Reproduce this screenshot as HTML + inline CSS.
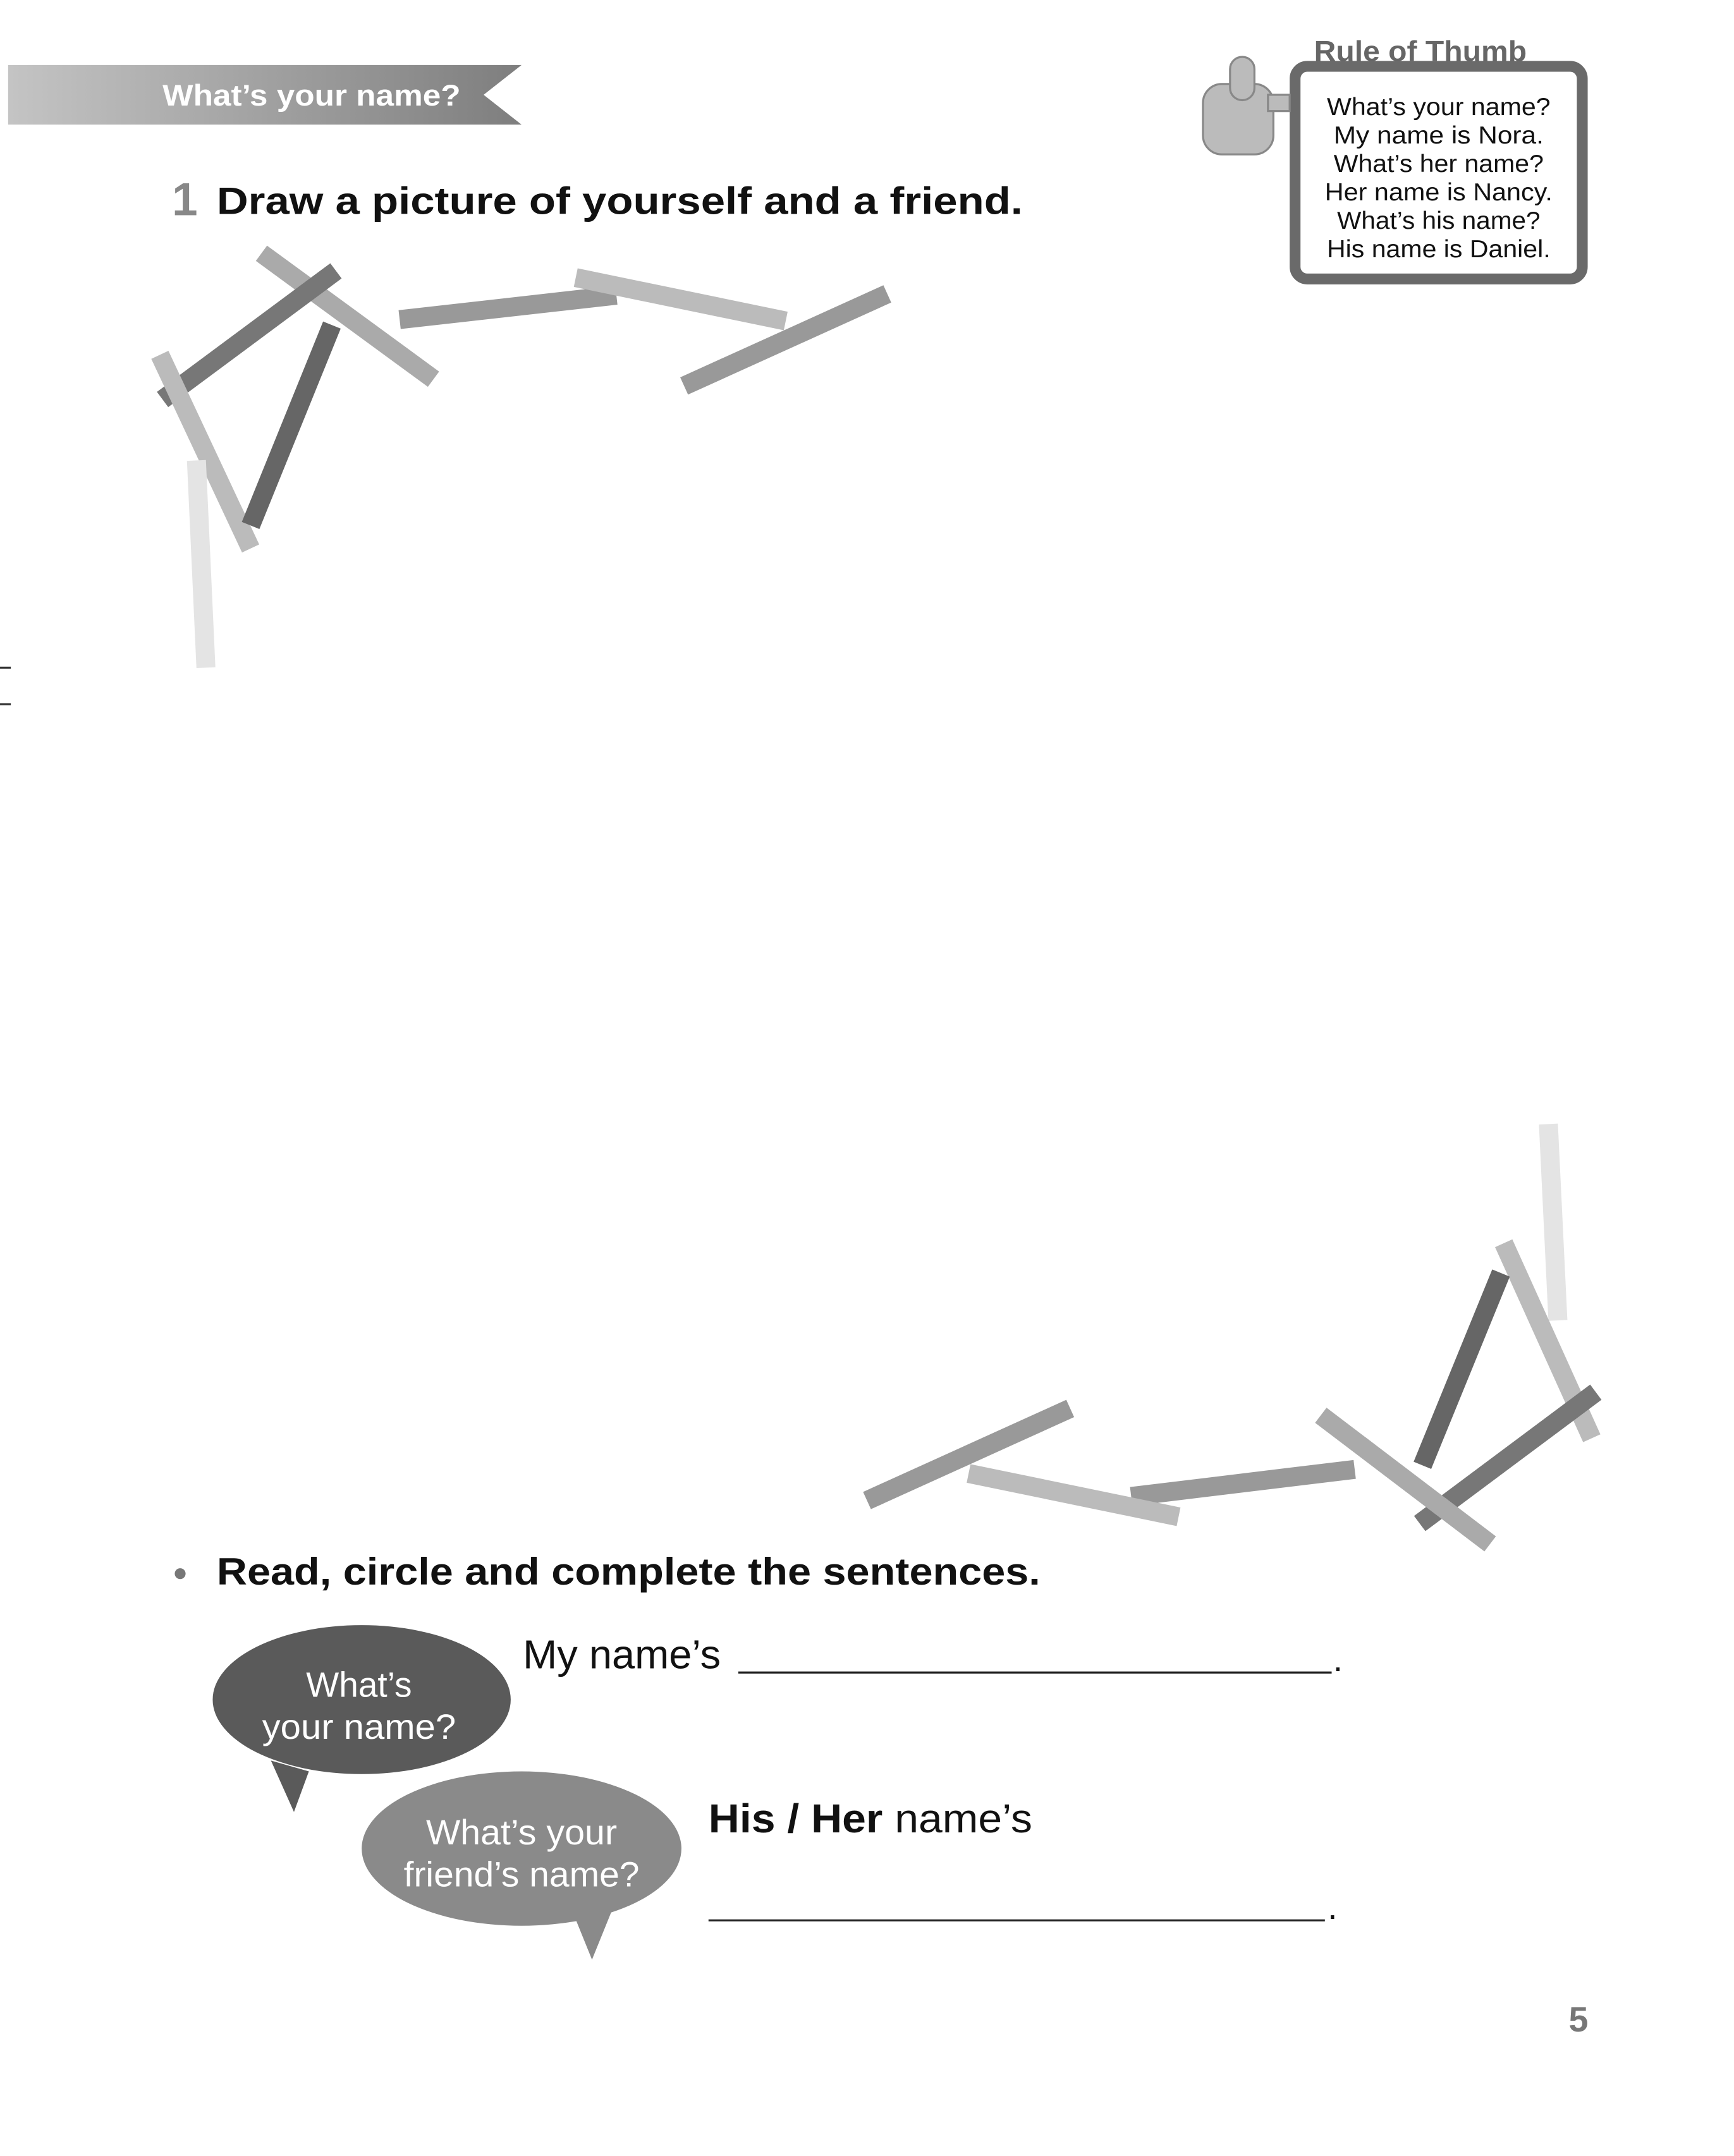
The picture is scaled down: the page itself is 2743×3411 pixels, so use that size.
<!DOCTYPE html>
<html><head><meta charset="utf-8"><style>
html,body{margin:0;padding:0;background:#fff;}
svg{display:block;}
text{font-family:"Liberation Sans",sans-serif;}
</style></head><body>
<svg width="2743" height="3411" viewBox="0 0 1280 1592" preserveAspectRatio="none" xmlns="http://www.w3.org/2000/svg">
<defs>
<linearGradient id="bg" x1="0" x2="1" y1="0" y2="0"><stop offset="0" stop-color="#c4c4c4"/><stop offset="1" stop-color="#7e7e7e"/></linearGradient>
</defs>
<polygon points="6,48 385,48 357,70 385,92 6,92" fill="url(#bg)"/>
<text x="120" y="78" font-size="22" font-weight="bold" fill="#fff" textLength="220" lengthAdjust="spacingAndGlyphs">What’s your name?</text>
<text x="127" y="159" font-size="34" font-weight="bold" fill="#888">1</text>
<text x="160" y="158" font-size="28" font-weight="bold" fill="#111" textLength="595" lengthAdjust="spacingAndGlyphs">Draw a picture of yourself and a friend.</text>

<!-- Rule of thumb -->
<text x="970" y="45" font-size="21" font-weight="bold" fill="#666" textLength="157" lengthAdjust="spacingAndGlyphs">Rule of Thumb</text>
<rect x="956" y="49" width="212" height="157" rx="9" fill="#fff" stroke="#6a6a6a" stroke-width="8"/>
<g font-size="18" fill="#111" text-anchor="middle">
<text x="1062" y="85" textLength="165" lengthAdjust="spacingAndGlyphs">What’s your name?</text>
<text x="1062" y="106" textLength="155" lengthAdjust="spacingAndGlyphs">My name is Nora.</text>
<text x="1062" y="127" textLength="155" lengthAdjust="spacingAndGlyphs">What’s her name?</text>
<text x="1062" y="148" textLength="168" lengthAdjust="spacingAndGlyphs">Her name is Nancy.</text>
<text x="1062" y="169" textLength="150" lengthAdjust="spacingAndGlyphs">What’s his name?</text>
<text x="1062" y="190" textLength="165" lengthAdjust="spacingAndGlyphs">His name is Daniel.</text>
</g>
<g fill="#bbb" stroke="#888" stroke-width="1.5">
<rect x="888" y="62" width="52" height="52" rx="14"/>
<rect x="908" y="42" width="18" height="32" rx="9"/>
<rect x="936" y="70" width="16" height="12"/>
</g>

<!-- crayons -->
<g stroke-linecap="butt" stroke-width="14">
<line x1="193" y1="187" x2="320" y2="280" stroke="#aaa"/>
<line x1="120" y1="295" x2="248" y2="200" stroke="#777"/>
<line x1="118" y1="262" x2="185" y2="405" stroke="#bbb"/>
<line x1="185" y1="388" x2="245" y2="240" stroke="#666"/>
<line x1="145" y1="340" x2="152" y2="493" stroke="#e4e4e4"/>
<line x1="295" y1="236" x2="455" y2="218" stroke="#999"/>
<line x1="425" y1="205" x2="580" y2="237" stroke="#bbb"/>
<line x1="505" y1="285" x2="655" y2="217" stroke="#999"/>
<line x1="1143" y1="830" x2="1150" y2="975" stroke="#e4e4e4"/>
<line x1="1110" y1="918" x2="1175" y2="1062" stroke="#bbb"/>
<line x1="1050" y1="1082" x2="1108" y2="940" stroke="#666"/>
<line x1="1048" y1="1125" x2="1178" y2="1028" stroke="#777"/>
<line x1="975" y1="1045" x2="1100" y2="1140" stroke="#aaa"/>
<line x1="835" y1="1105" x2="1000" y2="1085" stroke="#999"/>
<line x1="715" y1="1088" x2="870" y2="1120" stroke="#bbb"/>
<line x1="640" y1="1108" x2="790" y2="1040" stroke="#999"/>
</g>

<line x1="0" y1="493" x2="8" y2="493" stroke="#333" stroke-width="1.5"/>
<line x1="0" y1="520" x2="8" y2="520" stroke="#333" stroke-width="1.5"/>

<circle cx="133" cy="1162" r="4" fill="#777"/>
<text x="160" y="1170" font-size="28" font-weight="bold" fill="#111" textLength="608" lengthAdjust="spacingAndGlyphs">Read, circle and complete the sentences.</text>

<text x="386" y="1232" font-size="30" fill="#111" textLength="146" lengthAdjust="spacingAndGlyphs">My name’s</text>
<line x1="545" y1="1235" x2="983" y2="1235" stroke="#222" stroke-width="1.5"/>
<text x="984" y="1234" font-size="26" fill="#111">.</text>

<path d="M200,1300 L217,1338 L228,1308 Z" fill="#5a5a5a"/>
<ellipse cx="267" cy="1255" rx="110" ry="55" fill="#5a5a5a"/>
<text x="265" y="1253" font-size="26" fill="#fff" text-anchor="middle" textLength="78" lengthAdjust="spacingAndGlyphs">What’s</text>
<text x="265" y="1284" font-size="26" fill="#fff" text-anchor="middle" textLength="143" lengthAdjust="spacingAndGlyphs">your name?</text>

<path d="M422,1410 L437,1447 L452,1410 Z" fill="#8a8a8a"/>
<ellipse cx="385" cy="1365" rx="118" ry="57" fill="#8a8a8a"/>
<text x="385" y="1362" font-size="26" fill="#fff" text-anchor="middle" textLength="141" lengthAdjust="spacingAndGlyphs">What’s your</text>
<text x="385" y="1393" font-size="26" fill="#fff" text-anchor="middle" textLength="174" lengthAdjust="spacingAndGlyphs">friend’s name?</text>

<text x="523" y="1353" font-size="30" fill="#111" textLength="239" lengthAdjust="spacingAndGlyphs"><tspan font-weight="bold">His / Her</tspan> name’s</text>
<line x1="523" y1="1418" x2="978" y2="1418" stroke="#222" stroke-width="1.5"/>
<text x="980" y="1417" font-size="26" fill="#111">.</text>

<text x="1158" y="1500" font-size="26" font-weight="bold" fill="#777">5</text>
</svg>
</body></html>
